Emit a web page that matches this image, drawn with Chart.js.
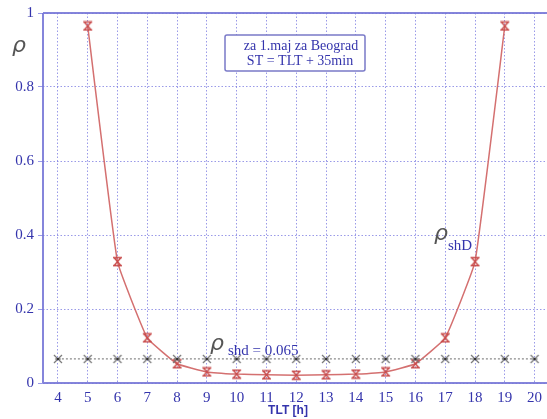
<!DOCTYPE html>
<html>
<head>
<meta charset="utf-8">
<script src="https://cdn.jsdelivr.net/npm/chart.js@4.4.0/dist/chart.umd.min.js"></script>
<style>
  html, body { margin: 0; padding: 0; background: #fff; overflow: hidden; }
  #wrap { width: 547px; height: 419px; overflow: hidden; }
</style>
</head>
<body>
<div id="wrap"><canvas id="myChart" width="556" height="419"></canvas></div>
<script>
'use strict';
// hours of the day (true local time)
let hoursShD = [5, 6, 7, 8, 9, 10, 11, 12, 13, 14, 15, 16, 17, 18, 19];
let rhoShD = [0.965, 0.328, 0.122, 0.052, 0.030, 0.024, 0.022, 0.021, 0.022, 0.024, 0.030, 0.052, 0.122, 0.328, 0.965];
let hoursShd = [4, 5, 6, 7, 8, 9, 10, 11, 12, 13, 14, 15, 16, 17, 18, 19, 20];
let rhoShdValue = 0.065;
let xTicks = [4, 5, 6, 7, 8, 9, 10, 11, 12, 13, 14, 15, 16, 17, 18, 19, 20];
let yTicks = [0, 0.2, 0.4, 0.6, 0.8, 1];

let blue = '#3434ac';
let gridBlue = 'rgba(100, 100, 220, 0.65)';

// hourglass marker for rho_shD
function hourglass(color) {
    let c = document.createElement('canvas');
    c.width = 13; c.height = 11;
    let g = c.getContext('2d');
    g.strokeStyle = color;
    g.lineWidth = 1.4;
    g.beginPath();
    g.moveTo(2, 1.5); g.lineTo(11, 1.5);
    g.moveTo(2, 9.5); g.lineTo(11, 9.5);
    g.moveTo(3, 1.5); g.lineTo(10, 9.5);
    g.moveTo(10, 1.5); g.lineTo(3, 9.5);
    g.stroke();
    return c;
}

// star-ish cross marker for rho_shd
function starMark(color) {
    let c = document.createElement('canvas');
    c.width = 12; c.height = 12;
    let g = c.getContext('2d');
    g.strokeStyle = color;
    g.lineWidth = 1.2;
    g.beginPath();
    g.moveTo(2, 2); g.lineTo(10, 10);
    g.moveTo(10, 2); g.lineTo(2, 10);
    g.moveTo(3, 6); g.lineTo(9, 6);
    g.stroke();
    g.fillStyle = '#333';
    g.fillRect(5, 5, 2, 2);
    return c;
}

let shD = hoursShD.map((h, i) => ({ x: h, y: rhoShD[i] }));
let shd = hoursShd.map(h => ({ x: h, y: rhoShdValue }));

// frame lines and text labels
let extras = {
    id: 'extras',
    afterDatasetsDraw(chart) {
        let ctx = chart.ctx;
        let ys = chart.scales.y;
        let a = chart.chartArea;
        ctx.save();
        ctx.strokeStyle = 'rgba(120, 120, 215, 0.9)';
        ctx.lineWidth = 2;
        ctx.beginPath();
        ctx.moveTo(a.left, ys.getPixelForValue(1));
        ctx.lineTo(a.right, ys.getPixelForValue(1));
        ctx.moveTo(a.left, a.top);
        ctx.lineTo(a.left, a.bottom);
        ctx.moveTo(a.left, ys.getPixelForValue(0));
        ctx.lineTo(a.right, ys.getPixelForValue(0));
        ctx.stroke();

        // note box
        ctx.fillStyle = '#fff';
        ctx.strokeStyle = '#7a7ac8';
        ctx.lineWidth = 1.5;
        ctx.beginPath();
        ctx.roundRect(225, 35, 140, 36, 2);
        ctx.fill();
        ctx.stroke();
        ctx.fillStyle = blue;
        ctx.font = '14px "Liberation Serif", "Times New Roman", serif';
        ctx.textAlign = 'center';
        ctx.textBaseline = 'middle';
        ctx.fillText('za 1.maj za Beograd', 301, 46);
        ctx.fillText('ST = TLT + 35min', 300, 61);

        // rho labels
        ctx.textAlign = 'left';
        ctx.textBaseline = 'alphabetic';
        ctx.fillStyle = '#555';
        ctx.font = 'italic 22px "DejaVu Sans", sans-serif';
        ctx.fillText('ρ', 12, 52);
        ctx.fillText('ρ', 434, 240);
        ctx.fillText('ρ', 210, 350);
        ctx.fillStyle = blue;
        ctx.font = '15px "Liberation Serif", "Times New Roman", serif';
        ctx.fillText('shD', 448, 250);
        ctx.fillText('shd = 0.065', 228, 355);

        // x title
        ctx.font = 'bold 12px "Liberation Sans", Arial, sans-serif';
        ctx.textAlign = 'center';
        ctx.fillText('TLT [h]', 288, 414);
        ctx.restore();
    }
};

let ctx = document.getElementById('myChart').getContext('2d');
let myChart = new Chart(ctx, {
    type: 'line',
    data: {
        datasets: [{
            label: 'shd',
            data: shd,
            borderColor: '#8a8a8a',
            borderWidth: 1.2,
            borderDash: [2, 2],
            pointStyle: starMark('#777'),
            pointRadius: 5,
            tension: 0
        }, {
            label: 'shD',
            data: shD,
            borderColor: '#d47070',
            borderWidth: 1.5,
            pointStyle: hourglass('#c84a4a'),
            pointRadius: 5,
            tension: 0.1
        }]
    },
    options: {
        responsive: false,
        animation: false,
        events: [],
        layout: { padding: { top: 13, right: 1, left: 0, bottom: 0 } },
        plugins: { legend: { display: false }, tooltip: { enabled: false } },
        scales: {
            x: {
                type: 'linear',
                min: 3.5,
                max: 20.5,
                afterBuildTicks: s => { s.ticks = xTicks.map(v => ({ value: v })); },
                afterFit: s => { s.height = 36; },
                grid: { color: gridBlue, lineWidth: 1, drawTicks: false },
                border: { display: false, dash: [1.5, 2] },
                ticks: {
                    color: blue,
                    padding: 6,
                    maxRotation: 0,
                    font: { family: '"Liberation Serif", "Times New Roman", serif', size: 15 }
                }
            },
            y: {
                min: 0,
                max: 1,
                afterBuildTicks: s => { s.ticks = yTicks.map(v => ({ value: v })); },
                afterFit: s => { s.width = 43; },
                grid: { color: gridBlue, lineWidth: 1, drawTicks: true, tickLength: 5 },
                border: { display: false, dash: [1.5, 2] },
                ticks: {
                    color: blue,
                    padding: 4,
                    callback: v => String(v),
                    font: { family: '"Liberation Serif", "Times New Roman", serif', size: 15 }
                }
            }
        }
    },
    plugins: [extras]
});
</script>
</body>
</html>
